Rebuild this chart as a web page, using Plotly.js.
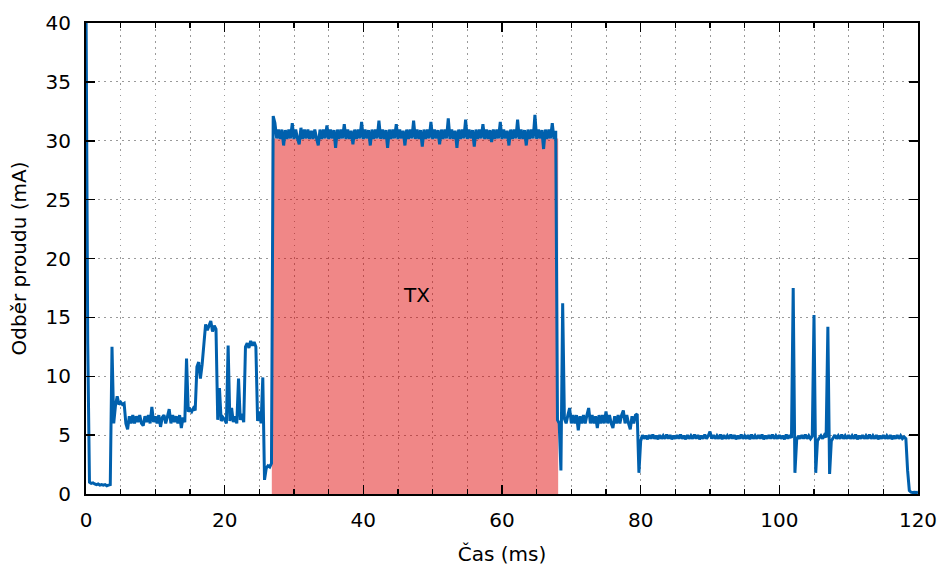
<!DOCTYPE html>
<html>
<head>
<meta charset="utf-8">
<script src="https://cdn.plot.ly/plotly-3.0.1.min.js"></script>
<style>html,body{margin:0;padding:0;background:#fff;}#chart{width:942px;height:566px;}</style>
</head>
<body>
<div id="chart"></div>
<script>
// Sampling period of the current trace (ms)
const SAMPLE_MS = 0.25;

// Measured current (mA), one value per sample, 20 samples = 5 ms per row
const currentMA = [
  42, 12.8, 1.0, 0.9, 0.95, 0.85, 0.8, 0.85, 0.75, 0.8, 0.75, 0.8, 0.7, 0.75, 0.8, 12.5, 6.0, 7.5, 8.3, 7.6,
  7.8, 7.6, 7.7, 6.0, 5.5, 6.6, 6.0, 6.7, 6.0, 6.6, 6.1, 6.7, 6.0, 5.8, 6.6, 6.1, 6.7, 6.0, 7.4, 6.1,
  6.6, 6.0, 6.7, 5.7, 6.5, 6.7, 6.0, 6.6, 7.2, 6.0, 6.7, 6.1, 6.6, 6.0, 6.7, 5.6, 6.5, 6.1, 11.5, 7.0,
  7.2, 7.0, 7.3, 7.1, 10.8, 11.2, 9.8, 11.0, 12.7, 14.4, 13.9, 14.3, 14.7, 13.8, 14.3, 14.0, 6.3, 9.0, 6.2, 6.5,
  6.3, 6.0, 12.6, 6.2, 7.3, 6.1, 6.6, 6.0, 9.8, 6.3, 6.8, 6.1, 12.5, 12.8, 12.4, 13.0, 12.6, 12.9, 12.5, 6.2,
  7.0, 6.0, 9.9, 1.2, 2.2, 2.4, 2.3, 2.6, 32.1, 31.5, 30.2, 30.95, 30.15, 30.95, 29.6, 30.9, 30.15, 30.95, 30.2, 31.5,
  30.15, 30.95, 30.2, 29.7, 31.1, 30.15, 30.95, 30.2, 30.95, 30.15, 30.85, 30.15, 30.95, 30.2, 29.6, 30.95, 30.15, 30.95, 30.2, 31.3,
  30.15, 30.95, 30.2, 30.9, 29.4, 30.95, 30.15, 30.95, 30.2, 31.4, 30.15, 30.95, 30.15, 30.85, 29.7, 30.95, 30.15, 30.95, 30.2, 31.6,
  30.15, 30.95, 30.2, 30.9, 29.6, 30.95, 30.15, 30.95, 30.2, 31.7, 30.15, 30.95, 30.15, 30.9, 29.4, 30.95, 30.15, 30.95, 30.2, 31.4,
  30.15, 30.95, 30.2, 30.85, 29.6, 30.95, 30.15, 30.95, 30.2, 31.7, 30.15, 30.95, 30.15, 30.9, 29.5, 30.95, 30.15, 30.95, 30.2, 31.6,
  30.15, 30.95, 30.2, 30.9, 29.7, 30.95, 30.15, 30.95, 30.2, 31.9, 30.15, 30.95, 30.15, 30.85, 29.4, 30.95, 30.15, 30.95, 30.2, 31.8,
  30.15, 30.95, 30.2, 30.9, 29.5, 30.95, 30.15, 30.95, 30.2, 31.4, 30.15, 30.95, 30.15, 30.9, 29.9, 30.95, 30.15, 30.95, 30.2, 31.6,
  30.15, 30.95, 30.2, 30.85, 29.6, 30.95, 30.15, 30.95, 30.2, 31.8, 30.15, 30.95, 30.15, 30.9, 29.6, 30.95, 30.15, 30.95, 30.2, 32.2,
  30.15, 30.95, 30.2, 30.9, 29.3, 30.95, 30.15, 30.95, 30.2, 31.5, 30.15, 30.85, 6.3, 6.0, 2.0, 16.2, 6.4, 6.0, 6.7, 7.3,
  6.0, 6.7, 6.0, 6.7, 5.4, 6.6, 6.0, 6.7, 6.0, 6.7, 7.3, 6.0, 6.7, 6.0, 6.6, 5.6, 6.7, 6.0, 6.7, 6.0,
  7.0, 6.0, 6.7, 6.0, 5.6, 6.6, 6.0, 6.7, 6.0, 6.7, 7.1, 6.0, 6.7, 6.0, 5.5, 6.6, 6.0, 6.7, 6.8, 1.8,
  4.5, 5.0, 4.7, 4.95, 4.65, 5.0, 4.7, 5.05, 4.7, 4.95, 4.65, 5.0, 4.7, 4.95, 4.7, 5.05, 4.7, 5.0, 4.65, 4.95,
  4.7, 5.0, 4.7, 5.05, 4.7, 4.95, 4.65, 5.0, 4.7, 4.95, 4.7, 5.05, 4.7, 5.0, 4.65, 4.95, 4.7, 5.05, 4.7, 4.95,
  5.3, 4.7, 5.0, 4.7, 4.95, 4.7, 5.05, 4.65, 5.0, 4.7, 4.95, 4.7, 5.05, 4.7, 5.0, 4.65, 4.95, 4.7, 5.05, 4.7,
  4.95, 4.7, 5.0, 4.65, 5.05, 4.7, 4.95, 4.7, 5.0, 4.7, 5.05, 4.65, 4.95, 4.7, 5.0, 4.7, 5.05, 4.7, 4.95, 4.7,
  5.0, 4.7, 4.95, 4.65, 5.05, 4.7, 5.0, 4.75, 17.5, 1.8, 4.6, 4.95, 4.7, 5.0, 4.7, 5.05, 4.7, 4.95, 4.7, 4.9,
  15.2, 1.8, 4.5, 4.75, 4.95, 4.7, 5.0, 4.8, 14.2, 1.7, 4.5, 4.75, 5.0, 4.7, 4.95, 4.7, 5.05, 4.7, 4.95, 4.7,
  5.0, 4.7, 4.95, 4.7, 5.05, 4.65, 4.95, 4.7, 5.0, 4.7, 4.95, 4.7, 5.05, 4.7, 4.95, 4.7, 5.0, 4.65, 4.95, 4.7,
  5.0, 4.7, 4.95, 4.7, 5.0, 4.65, 4.95, 4.7, 5.0, 4.7, 4.95, 4.7, 4.85, 4.7, 2.0, 0.3, 0.15, 0.12, 0.15, 0.12,
  0.15
];

// Sample times (ms) on the uniform sampling grid
const timeMS = currentMA.map((_, i) => i * SAMPLE_MS);

// TX window (ms) and its level (mA)
const txWindow = [26.8, 68.1];
const txLevel = 30.2;
const txLabel = {text: 'TX', t: 47.7, mA: 16.9};

// Axis ticks
const xTicks = [0, 20, 40, 60, 80, 100, 120];
const yTicks = [0, 5, 10, 15, 20, 25, 30, 35, 40];

const gridColor = '#9a9a9a';
const gridDash = '1.5px,4.5px';

const txTrace = {
  x: [txWindow[0], txWindow[0], txWindow[1], txWindow[1]],
  y: [0, txLevel, txLevel, 0],
  type: 'scatter', mode: 'lines', fill: 'toself',
  fillcolor: 'rgba(223,0,0,0.47)',
  line: {width: 0, color: 'rgba(0,0,0,0)'},
  hoverinfo: 'skip'
};

const currentTrace = {
  x: timeMS, y: currentMA,
  type: 'scatter', mode: 'lines',
  line: {color: '#0060ad', width: 3, simplify: false},
  hoverinfo: 'skip'
};

const axisCommon = {
  showline: true, linecolor: '#000', linewidth: 2, mirror: 'allticks',
  ticks: 'inside', tickcolor: '#000', tickwidth: 1.5, ticklen: 9,
  showgrid: true, gridcolor: gridColor, gridwidth: 1, griddash: gridDash,
  zeroline: false,
  tickfont: {family: 'DejaVu Sans', size: 20, color: '#000'}
};

const layout = {
  width: 942, height: 566,
  margin: {l: 86, r: 24, t: 23, b: 72},
  paper_bgcolor: '#fff', plot_bgcolor: '#fff',
  font: {family: 'DejaVu Sans', size: 20, color: '#000'},
  showlegend: false,
  xaxis: Object.assign({}, axisCommon, {
    range: [0, 120], tickmode: 'array', tickvals: xTicks, ticktext: xTicks.map(String),
    ticklabelstandoff: 7,
    minor: {dtick: 5, tick0: 0, ticks: 'inside', ticklen: 5, tickcolor: '#000', tickwidth: 1.2,
            showgrid: true, gridcolor: gridColor, gridwidth: 1, griddash: gridDash},
    title: {text: 'Čas (ms)', font: {family: 'DejaVu Sans', size: 20, color: '#000'}, standoff: 24}
  }),
  yaxis: Object.assign({}, axisCommon, {
    range: [0, 40], tickmode: 'array', tickvals: yTicks, ticktext: yTicks.map(String),
    ticklabelstandoff: 9,
    title: {text: 'Odběr proudu (mA)', font: {family: 'DejaVu Sans', size: 20, color: '#000'}, standoff: 14}
  }),
  annotations: [{
    x: txLabel.t, y: txLabel.mA, xref: 'x', yref: 'y', text: txLabel.text,
    showarrow: false, font: {family: 'DejaVu Sans', size: 20, color: '#000'}
  }]
};

Plotly.newPlot('chart', [txTrace, currentTrace], layout, {displayModeBar: false, staticPlot: true});
</script>
</body>
</html>
